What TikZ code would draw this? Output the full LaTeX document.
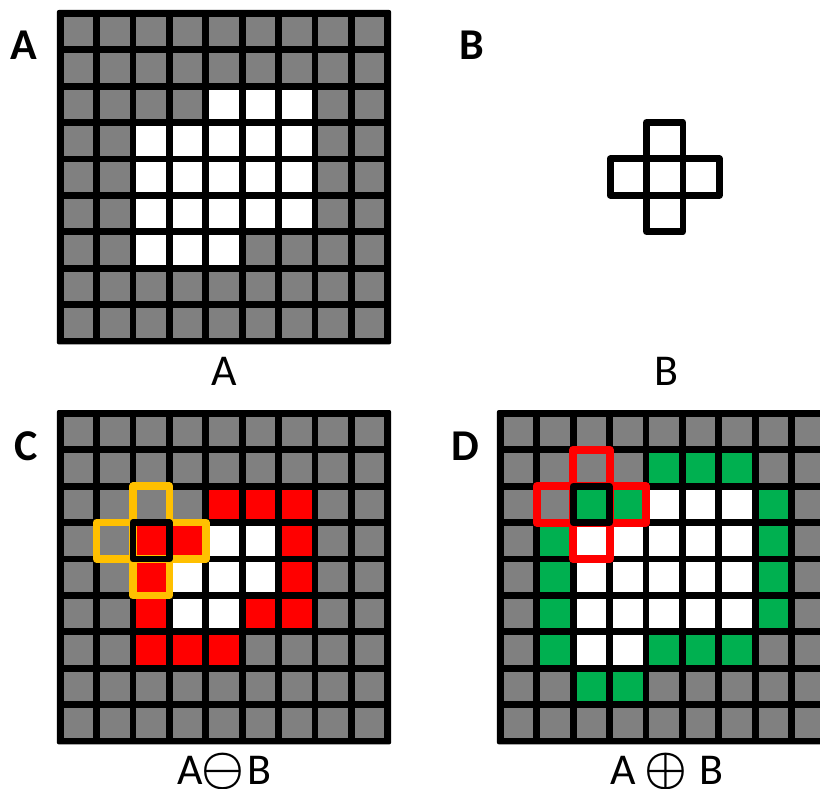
\documentclass[tikz,border=0pt]{standalone}
\usepackage{fontspec}
\setmainfont{Carlito}
\usepackage{graphicx}
\definecolor{cellgray}{RGB}{128,128,128}
\definecolor{cellred}{RGB}{255,0,0}
\definecolor{cellgreen}{RGB}{0,176,80}
\definecolor{crossyellow}{RGB}{255,192,0}
\def\gridp{36.4}
\def\gridh{3.4}
\newcommand{\gridbase}[2]{%
  \fill[gridframe] ({#1-\gridh},{#2-\gridh}) rectangle ({#1+9*\gridp+\gridh},{#2+9*\gridp+\gridh});
  \foreach \r in {0,...,8}{\foreach \c in {0,...,8}{%
    \fill[graycell] ({#1+\c*\gridp+\gridh},{#2+\r*\gridp+\gridh}) rectangle ({#1+(\c+1)*\gridp-\gridh},{#2+(\r+1)*\gridp-\gridh});}}%
}
\newcommand{\gcell}[5]{%
  \fill[#5] ({#1+#4*\gridp+\gridh},{#2+#3*\gridp+\gridh}) rectangle ({#1+(#4+1)*\gridp-\gridh},{#2+(#3+1)*\gridp-\gridh});}
\newcommand{\gbox}[5]{%
  \draw[#5] ({#1+#4*\gridp},{#2+#3*\gridp}) rectangle ({#1+(#4+1)*\gridp},{#2+(#3+1)*\gridp});}
\tikzset{
  gridframe/.style={fill=black, rounded corners=2pt},
  graycell/.style={fill=cellgray},
  whitecell/.style={fill=white},
  redcell/.style={fill=cellred},
  greencell/.style={fill=cellgreen},
  yellowarm/.style={draw=crossyellow, line width=7.5pt, line join=round},
  redarm/.style={draw=cellred, line width=8pt, line join=round},
  centerbox/.style={draw=black, line width=6.8pt, line join=round},
  bbox/.style={draw=black, line width=6.8pt, line join=round},
  panellabel/.style={anchor=base, inner sep=0pt, text depth=0pt, font=\bfseries\fontsize{44}{44}\selectfont},
  sublabel/.style={anchor=base, inner sep=0pt, text depth=0pt, font=\fontsize{44}{44}\selectfont},
  opsym/.style={anchor=center, inner sep=0pt},
}
\begin{document}
\begin{tikzpicture}[x=1pt,y=-1pt]
\path[clip] (0,0) rectangle (820,789);
\fill[white] (0,0) rectangle (820,789);
% ---- Panel A ----
\gridbase{60.2}{13.4}
\foreach \r/\c in {2/4,2/5,2/6,3/2,3/3,3/4,3/5,3/6,4/2,4/3,4/4,4/5,4/6,5/2,5/3,5/4,5/5,5/6,6/2,6/3,6/4}
  {\gcell{60.2}{13.4}{\r}{\c}{whitecell}}
% ---- Panel B ----
\foreach \r/\c in {0/1,1/0,1/1,1/2,2/1}
  {\gbox{610.1}{122.4}{\r}{\c}{bbox}}
% ---- Panel C ----
\gridbase{60.2}{413.4}
\foreach \r/\c in {2/4,2/5,2/6,3/2,3/3,3/6,4/2,4/6,5/2,5/5,5/6,6/2,6/3,6/4}
  {\gcell{60.2}{413.4}{\r}{\c}{redcell}}
\foreach \r/\c in {3/4,3/5,4/3,4/4,4/5,5/3,5/4}
  {\gcell{60.2}{413.4}{\r}{\c}{whitecell}}
\foreach \r/\c in {2/2,3/1,3/3,4/2}
  {\gbox{60.2}{413.4}{\r}{\c}{yellowarm}}
\gbox{60.2}{413.4}{3}{2}{centerbox}
% ---- Panel D ----
\gridbase{500.3}{413.4}
\foreach \r/\c in {1/4,1/5,1/6,2/2,2/3,2/7,3/1,3/7,4/1,4/7,5/1,5/7,6/1,6/4,6/5,6/6,7/2,7/3}
  {\gcell{500.3}{413.4}{\r}{\c}{greencell}}
\foreach \r/\c in {2/4,2/5,2/6,3/2,3/3,3/4,3/5,3/6,4/2,4/3,4/4,4/5,4/6,5/2,5/3,5/4,5/5,5/6,6/2,6/3}
  {\gcell{500.3}{413.4}{\r}{\c}{whitecell}}
\foreach \r/\c in {1/2,2/1,2/3,3/2}
  {\gbox{500.3}{413.4}{\r}{\c}{redarm}}
\gbox{500.3}{413.4}{2}{2}{centerbox}
% ---- Labels ----
\node[panellabel] (lblA) at (23.5,60) {A};
\node[panellabel] (lblB) at (471.5,60) {B};
\node[panellabel] (lblC) at (26.5,460) {C};
\node[panellabel] (lblD) at (465,460) {D};
\node[sublabel] (subA) at (224.5,385) {A};
\node[sublabel] (subB) at (666,385) {B};
\node[sublabel] (erA) at (190,784) {A};
\node[opsym] (erop) at (222.5,771.5) {\scalebox{4.8}{\boldmath$\ominus$}};
\node[sublabel] (erB) at (259.5,784) {B};
\node[sublabel] (diA) at (623.5,784) {A};
\node[opsym] (diop) at (665.5,771.5) {\scalebox{4.8}{\boldmath$\oplus$}};
\node[sublabel] (diB) at (711,784) {B};
\end{tikzpicture}
\end{document}
